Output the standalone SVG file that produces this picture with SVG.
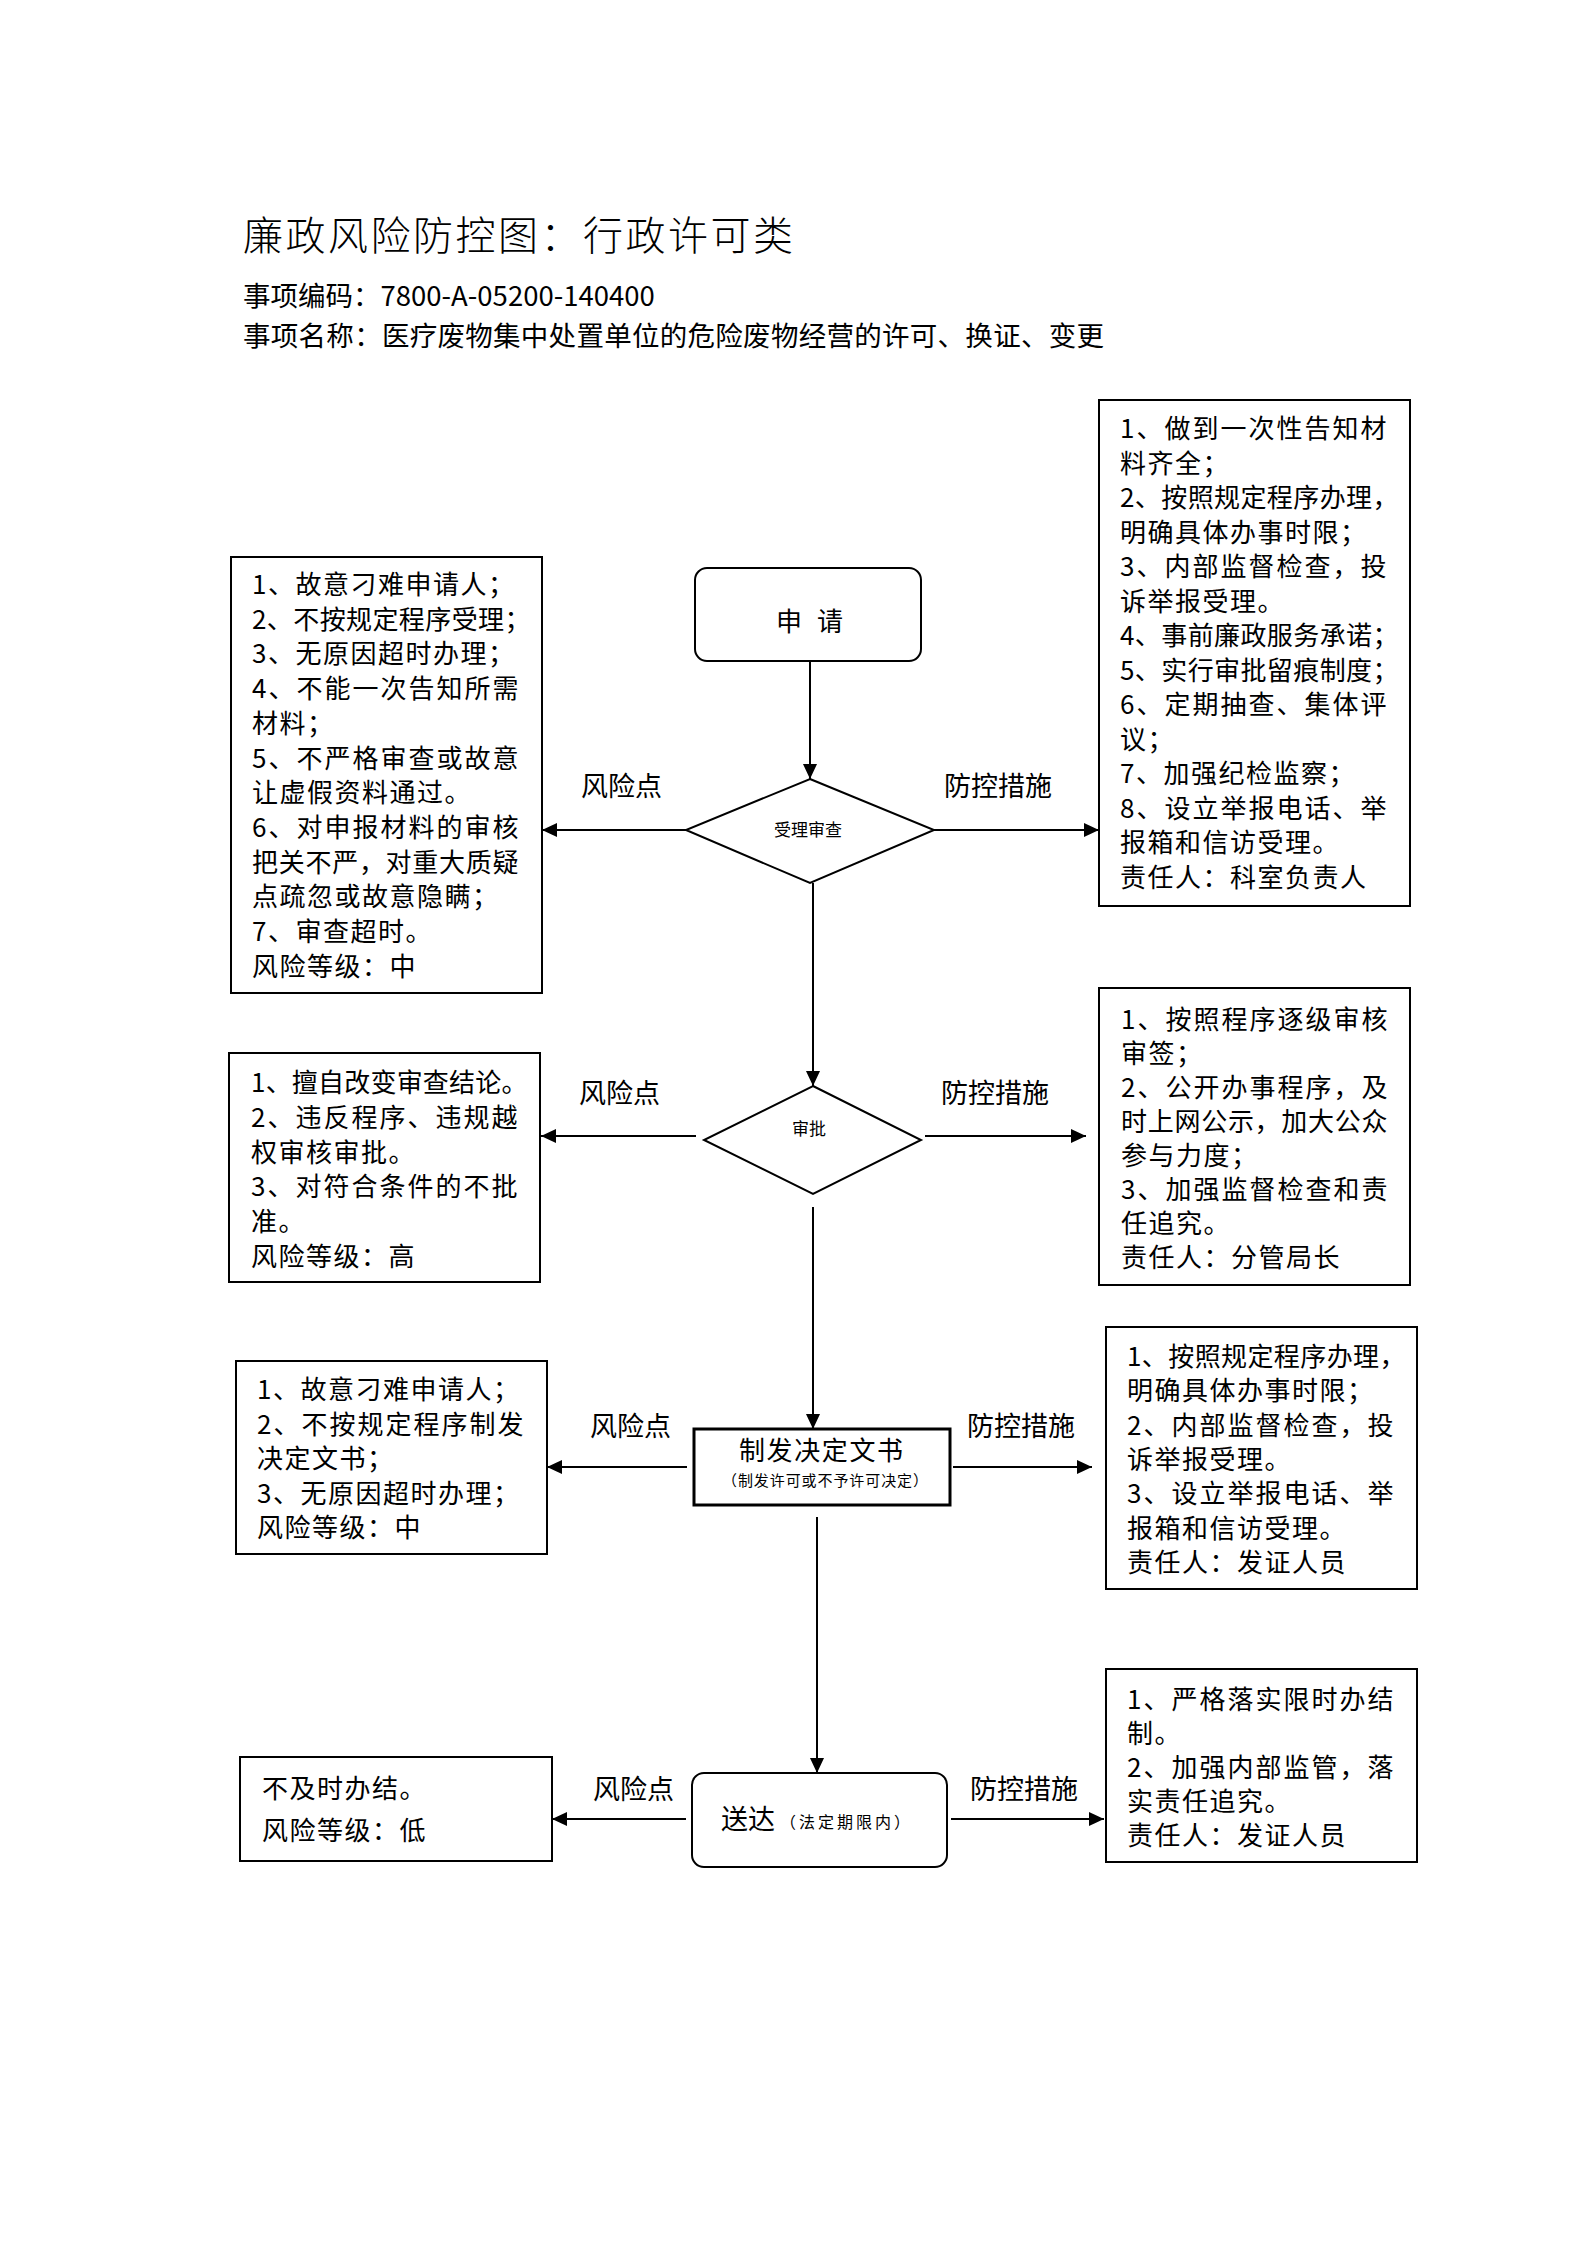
<svg xmlns="http://www.w3.org/2000/svg" width="1587" height="2245" viewBox="0 0 1587 2245">
<defs>
<marker id="ah" markerUnits="userSpaceOnUse" markerWidth="16" markerHeight="14" refX="15" refY="7" orient="auto">
<path d="M0,0 L15,7 L0,14 z" fill="#000"/>
</marker>
<style>
text{font-family:"Noto Sans CJK SC","Noto Sans",sans-serif;fill:#000}
.b{font-size:26px;letter-spacing:1.5px}
.lbl{font-size:27px}
.box{fill:#fff;stroke:#000;stroke-width:2}
.ln{stroke:#000;stroke-width:2;fill:none;marker-end:url(#ah)}
</style>
</defs>
<rect width="1587" height="2245" fill="#fff"/>
<g id="header">
<text x="243" y="250" font-size="40" font-weight="300" textLength="550" lengthAdjust="spacing">廉政风险防控图：行政许可类</text>
<text x="243" y="306" font-size="27.5">事项编码：7800-A-05200-140400</text>
<text x="243" y="346" font-size="27.5" textLength="861" lengthAdjust="spacing">事项名称：医疗废物集中处置单位的危险废物经营的许可、换证、变更</text>
</g>
<g id="connectors">
<line class="ln" x1="810" y1="661" x2="810" y2="779"/>
<line class="ln" x1="686" y1="830" x2="542" y2="830"/>
<line class="ln" x1="934" y1="830" x2="1099" y2="830"/>
<line class="ln" x1="813" y1="883" x2="813" y2="1086"/>
<line class="ln" x1="696" y1="1136" x2="541" y2="1136"/>
<line class="ln" x1="925" y1="1136" x2="1086" y2="1136"/>
<line class="ln" x1="813" y1="1207" x2="813" y2="1429"/>
<line class="ln" x1="687" y1="1467" x2="547" y2="1467"/>
<line class="ln" x1="953" y1="1467" x2="1092" y2="1467"/>
<line class="ln" x1="817" y1="1517" x2="817" y2="1773"/>
<line class="ln" x1="686" y1="1819" x2="552" y2="1819"/>
<line class="ln" x1="951" y1="1819" x2="1104" y2="1819"/>
<text class="lbl" x="581" y="796">风险点</text>
<text class="lbl" x="944" y="796">防控措施</text>
<text class="lbl" x="579" y="1103">风险点</text>
<text class="lbl" x="941" y="1103">防控措施</text>
<text class="lbl" x="590" y="1436">风险点</text>
<text class="lbl" x="967" y="1436">防控措施</text>
<text class="lbl" x="593" y="1799">风险点</text>
<text class="lbl" x="970" y="1799">防控措施</text>
</g>
<g id="apply">
<rect class="box" x="695" y="568" width="226" height="93" rx="12"/>
<text y="631" font-size="26"><tspan x="776">申</tspan><tspan x="817">请</tspan></text>
</g>
<g id="review">
<polygon class="box" points="810,779 934,830 810,883 686,830"/>
<text x="808" y="836" font-size="17" text-anchor="middle">受理审查</text>
</g>
<g id="approve">
<polygon class="box" points="813,1086 921,1140 813,1194 704,1140"/>
<text x="809" y="1135" font-size="17" text-anchor="middle">审批</text>
</g>
<g id="decision">
<rect x="694" y="1429" width="256" height="76" fill="#fff" stroke="#000" stroke-width="3"/>
<text x="739" y="1460" font-size="26" textLength="164" lengthAdjust="spacing">制发决定文书</text>
<text x="722" y="1486" font-size="15" textLength="206" lengthAdjust="spacing">（制发许可或不予许可决定）</text>
</g>
<g id="deliver">
<rect class="box" x="692" y="1773" width="255" height="94" rx="12"/>
<text x="721" y="1829" font-size="27">送达</text>
<text x="780" y="1828" font-size="16" textLength="130" lengthAdjust="spacing">（法定期限内）</text>
</g>
<g id="risk1">
<rect class="box" x="231" y="557" width="311" height="436"/>
<text class="b" x="252" y="594">1、故意刁难申请人；</text>
<text class="b" x="252" y="628.7" textLength="280" lengthAdjust="spacing">2、不按规定程序受理；</text>
<text class="b" x="252" y="663.4">3、无原因超时办理；</text>
<text class="b" x="252" y="698.1" textLength="268" lengthAdjust="spacing">4、不能一次告知所需</text>
<text class="b" x="252" y="732.8">材料；</text>
<text class="b" x="252" y="767.5" textLength="268" lengthAdjust="spacing">5、不严格审查或故意</text>
<text class="b" x="252" y="802.2">让虚假资料通过。</text>
<text class="b" x="252" y="836.9" textLength="268" lengthAdjust="spacing">6、对申报材料的审核</text>
<text class="b" x="252" y="871.6" textLength="268" lengthAdjust="spacing">把关不严，对重大质疑</text>
<text class="b" x="252" y="906.3">点疏忽或故意隐瞒；</text>
<text class="b" x="252" y="941">7、审查超时。</text>
<text class="b" x="252" y="975.7">风险等级：中</text>
</g>
<g id="measure1">
<rect class="box" x="1099" y="400" width="311" height="506"/>
<text class="b" x="1120" y="438" textLength="268" lengthAdjust="spacing">1、做到一次性告知材</text>
<text class="b" x="1120" y="472.5">料齐全；</text>
<text class="b" x="1120" y="507" textLength="280" lengthAdjust="spacing">2、按照规定程序办理，</text>
<text class="b" x="1120" y="541.5">明确具体办事时限；</text>
<text class="b" x="1120" y="576" textLength="268" lengthAdjust="spacing">3、内部监督检查，投</text>
<text class="b" x="1120" y="610.5">诉举报受理。</text>
<text class="b" x="1120" y="645" textLength="280" lengthAdjust="spacing">4、事前廉政服务承诺；</text>
<text class="b" x="1120" y="679.5" textLength="280" lengthAdjust="spacing">5、实行审批留痕制度；</text>
<text class="b" x="1120" y="714" textLength="268" lengthAdjust="spacing">6、定期抽查、集体评</text>
<text class="b" x="1120" y="748.5">议；</text>
<text class="b" x="1120" y="783">7、加强纪检监察；</text>
<text class="b" x="1120" y="817.5" textLength="268" lengthAdjust="spacing">8、设立举报电话、举</text>
<text class="b" x="1120" y="852">报箱和信访受理。</text>
<text class="b" x="1120" y="886.5">责任人：科室负责人</text>
</g>
<g id="risk2">
<rect class="box" x="229" y="1053" width="311" height="229"/>
<text class="b" x="251" y="1092" textLength="278" lengthAdjust="spacing">1、擅自改变审查结论。</text>
<text class="b" x="251" y="1126.8" textLength="268" lengthAdjust="spacing">2、违反程序、违规越</text>
<text class="b" x="251" y="1161.6">权审核审批。</text>
<text class="b" x="251" y="1196.4" textLength="268" lengthAdjust="spacing">3、对符合条件的不批</text>
<text class="b" x="251" y="1231.2">准。</text>
<text class="b" x="251" y="1266">风险等级：高</text>
</g>
<g id="measure2">
<rect class="box" x="1099" y="988" width="311" height="297"/>
<text class="b" x="1121" y="1029" textLength="268" lengthAdjust="spacing">1、按照程序逐级审核</text>
<text class="b" x="1121" y="1063">审签；</text>
<text class="b" x="1121" y="1097" textLength="268" lengthAdjust="spacing">2、公开办事程序，及</text>
<text class="b" x="1121" y="1131" textLength="268" lengthAdjust="spacing">时上网公示，加大公众</text>
<text class="b" x="1121" y="1165">参与力度；</text>
<text class="b" x="1121" y="1199" textLength="268" lengthAdjust="spacing">3、加强监督检查和责</text>
<text class="b" x="1121" y="1233">任追究。</text>
<text class="b" x="1121" y="1267">责任人：分管局长</text>
</g>
<g id="risk3">
<rect class="box" x="236" y="1361" width="311" height="193"/>
<text class="b" x="257" y="1399">1、故意刁难申请人；</text>
<text class="b" x="257" y="1433.5" textLength="268" lengthAdjust="spacing">2、不按规定程序制发</text>
<text class="b" x="257" y="1468">决定文书；</text>
<text class="b" x="257" y="1502.5">3、无原因超时办理；</text>
<text class="b" x="257" y="1537">风险等级：中</text>
</g>
<g id="measure3">
<rect class="box" x="1106" y="1327" width="311" height="262"/>
<text class="b" x="1127" y="1366" textLength="280" lengthAdjust="spacing">1、按照规定程序办理，</text>
<text class="b" x="1127" y="1400.3">明确具体办事时限；</text>
<text class="b" x="1127" y="1434.6" textLength="268" lengthAdjust="spacing">2、内部监督检查，投</text>
<text class="b" x="1127" y="1468.9">诉举报受理。</text>
<text class="b" x="1127" y="1503.2" textLength="268" lengthAdjust="spacing">3、设立举报电话、举</text>
<text class="b" x="1127" y="1537.5">报箱和信访受理。</text>
<text class="b" x="1127" y="1571.8">责任人：发证人员</text>
</g>
<g id="risk4">
<rect class="box" x="240" y="1757" width="312" height="104"/>
<text class="b" x="262" y="1798">不及时办结。</text>
<text class="b" x="262" y="1840">风险等级：低</text>
</g>
<g id="measure4">
<rect class="box" x="1106" y="1669" width="311" height="193"/>
<text class="b" x="1127" y="1709" textLength="268" lengthAdjust="spacing">1、严格落实限时办结</text>
<text class="b" x="1127" y="1743">制。</text>
<text class="b" x="1127" y="1777" textLength="268" lengthAdjust="spacing">2、加强内部监管，落</text>
<text class="b" x="1127" y="1811">实责任追究。</text>
<text class="b" x="1127" y="1845">责任人：发证人员</text>
</g>
</svg>
